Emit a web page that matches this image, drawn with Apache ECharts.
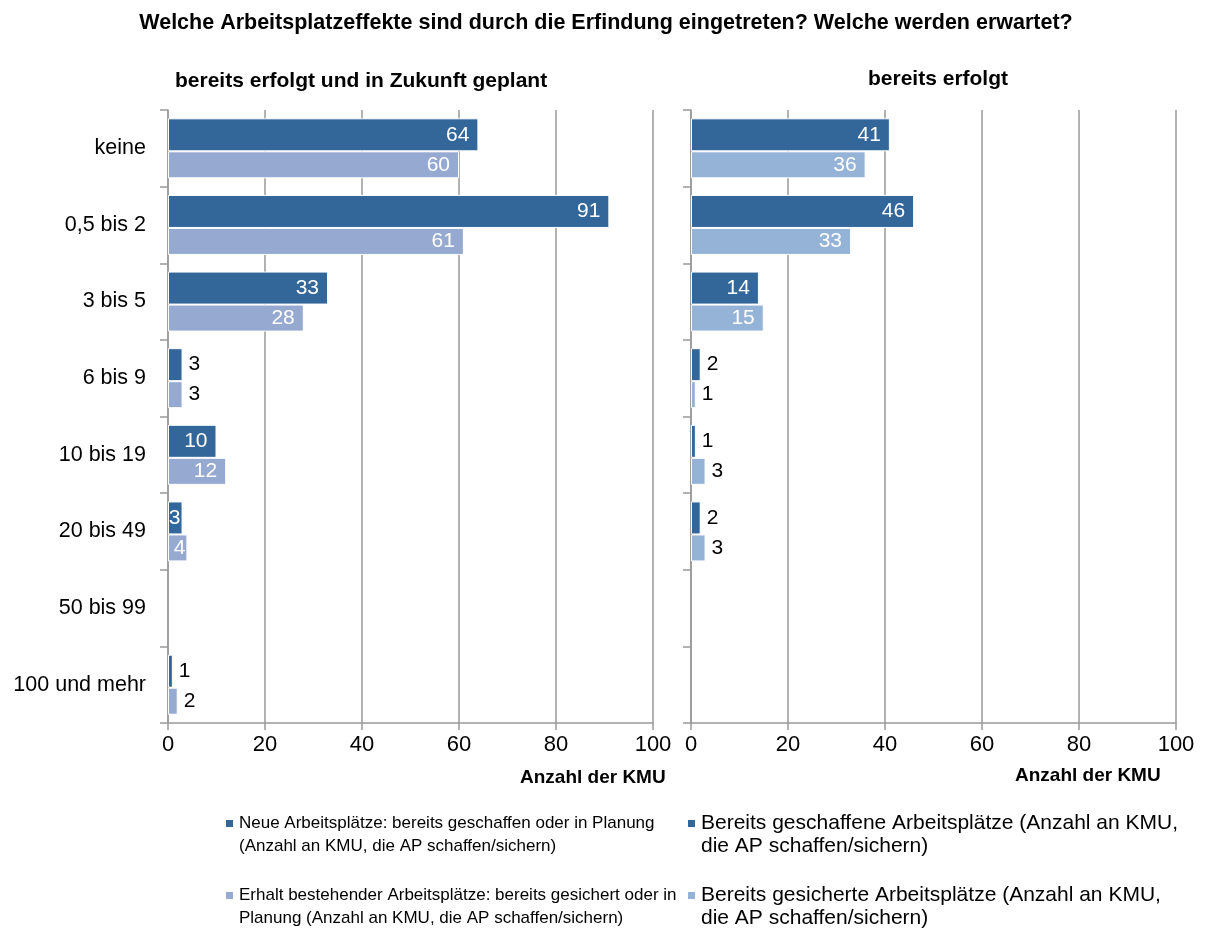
<!DOCTYPE html>
<html>
<head>
<meta charset="utf-8">
<script src="https://cdn.jsdelivr.net/npm/echarts@6/dist/echarts.min.js"></script>
<style>
html,body{margin:0;padding:0;background:#fff;}
#chart{width:1212px;height:933px;}
</style>
</head>
<body>
<div id="chart"></div>
<script>
const categories = ['keine', '0,5 bis 2', '3 bis 5', '6 bis 9', '10 bis 19', '20 bis 49', '50 bis 99', '100 und mehr'];
const xTicks = [0, 20, 40, 60, 80, 100];

const seriesNames = [
  'Neue Arbeitsplätze: bereits geschaffen oder in Planung (Anzahl an KMU, die AP schaffen/sichern)',
  'Erhalt bestehender Arbeitsplätze: bereits gesichert oder in Planung (Anzahl an KMU, die AP schaffen/sichern)',
  'Bereits geschaffene Arbeitsplätze (Anzahl an KMU, die AP schaffen/sichern)',
  'Bereits gesicherte Arbeitsplätze (Anzahl an KMU, die AP schaffen/sichern)'
];
const legendLines = [
  'Neue Arbeitsplätze: bereits geschaffen oder in Planung\n(Anzahl an KMU, die AP schaffen/sichern)',
  'Erhalt bestehender Arbeitsplätze: bereits gesichert oder in\nPlanung (Anzahl an KMU, die AP schaffen/sichern)',
  'Bereits geschaffene Arbeitsplätze (Anzahl an KMU,\ndie AP schaffen/sichern)',
  'Bereits gesicherte Arbeitsplätze (Anzahl an KMU,\ndie AP schaffen/sichern)'
];

const neueGeplant    = [64, 91, 33, 3, 10, 3, null, 1];
const erhaltGeplant  = [60, 61, 28, 3, 12, 4, null, 2];
const neueErfolgt    = [41, 46, 14, 2, 1, 2, null, null];
const erhaltErfolgt  = [36, 33, 15, 1, 3, 3, null, null];

const DARK = '#336699';
const LIGHT_L = '#95A9D1';
const LIGHT_R = '#95B3D7';
const FONT = '"Liberation Sans", Arial, sans-serif';

// label placement rule: left chart -> outside for '6 bis 9' and '100 und mehr'; right chart -> outside for values < 10
const outsideLeft = ['6 bis 9', '100 und mehr'];
function items(values, side) {
  return values.map((v, i) => {
    if (v == null) return {value: null, label: {show: false}};
    const outside = side === 'L' ? outsideLeft.includes(categories[i]) : v < 10;
    return {
      value: v,
      label: outside
        ? {position: 'right', color: '#000', distance: 6}
        : {position: 'insideRight', color: '#fff', distance: v < 5 ? 2 : 9}
    };
  });
}

function bar(name, data, color, xIdx, width) {
  return {
    name: name, type: 'bar', xAxisIndex: xIdx, yAxisIndex: xIdx,
    data: data, barWidth: width, barGap: '0%',
    itemStyle: {color: color, borderColor: '#fff', borderWidth: 1},
    label: {show: true, fontFamily: FONT, fontSize: 21},
    emphasis: {disabled: true},
    animation: false
  };
}

const xAxisBase = (gi) => ({
  type: 'value', gridIndex: gi, min: 0, max: 100, interval: 20,
  axisLine: {show: true, lineStyle: {color: '#999', width: 1.5}},
  axisTick: {show: true, length: 7, lineStyle: {color: '#999', width: 1.5}},
  splitLine: {show: true, lineStyle: {color: '#999', width: 1.5}},
  axisLabel: {fontFamily: FONT, fontSize: 22, color: '#000', margin: 11,
    formatter: v => xTicks.includes(v) ? String(v) : ''}
});
const yAxisBase = (gi, showLabels) => ({
  type: 'category', gridIndex: gi, data: categories, inverse: true,
  axisLine: {show: true, lineStyle: {color: '#999', width: 1.5}},
  axisTick: {show: true, length: 8, lineStyle: {color: '#999', width: 1.5}},
  axisLabel: {show: showLabels, fontFamily: FONT, fontSize: 21.5, color: '#000', margin: 22}
});

// icon: square at top of a taller box so it lines up with the first text line
const ICON = 'path://M0,0L9,0L9,9L0,9Z M0,32L0.01,32L0,32Z';
function legend(idx, left, top, color, size) {
  return {
    data: [{name: seriesNames[idx], icon: ICON, itemStyle: {color: color}}],
    left: left, top: top, orient: 'vertical', padding: 0,
    itemWidth: 9, itemHeight: 32, itemGap: 0, selectedMode: false,
    formatter: () => legendLines[idx],
    textStyle: {fontFamily: FONT, fontSize: size, color: '#000', lineHeight: 23}
  };
}

const chart = echarts.init(document.getElementById('chart'));
chart.setOption({
  backgroundColor: '#fff',
  animation: false,
  title: [
    {text: 'Welche Arbeitsplatzeffekte sind durch die Erfindung eingetreten? Welche werden erwartet?',
     left: 'center', top: 12, padding: 0, textStyle: {fontFamily: FONT, fontSize: 21.5, fontWeight: 'bold', color: '#000'}},
    {text: 'bereits erfolgt und in Zukunft geplant', left: 175, top: 71, padding: 0,
     textStyle: {fontFamily: FONT, fontSize: 21, fontWeight: 'bold', color: '#000'}},
    {text: 'bereits erfolgt', left: 868, top: 69, padding: 0,
     textStyle: {fontFamily: FONT, fontSize: 21, fontWeight: 'bold', color: '#000'}},
    {text: 'Anzahl der KMU', left: 520, top: 768, padding: 0,
     textStyle: {fontFamily: FONT, fontSize: 19, fontWeight: 'bold', color: '#000'}},
    {text: 'Anzahl der KMU', left: 1015, top: 766, padding: 0,
     textStyle: {fontFamily: FONT, fontSize: 19, fontWeight: 'bold', color: '#000'}}
  ],
  grid: [
    {left: 168, right: 559, top: 110, bottom: 210},
    {left: 691, right: 36, top: 110, bottom: 210}
  ],
  xAxis: [xAxisBase(0), xAxisBase(1)],
  yAxis: [yAxisBase(0, true), yAxisBase(1, false)],
  legend: [
    legend(0, 224, 812, DARK, 17),
    legend(1, 224, 884, LIGHT_L, 17),
    legend(2, 686, 812, DARK, 21),
    legend(3, 686, 884, LIGHT_R, 21)
  ],
  series: [
    bar(seriesNames[0], items(neueGeplant, 'L'), DARK, 0, 33),
    bar(seriesNames[1], items(erhaltGeplant, 'L'), LIGHT_L, 0, 27),
    bar(seriesNames[2], items(neueErfolgt, 'R'), DARK, 1, 33),
    bar(seriesNames[3], items(erhaltErfolgt, 'R'), LIGHT_R, 1, 27)
  ]
});
</script>
</body>
</html>
